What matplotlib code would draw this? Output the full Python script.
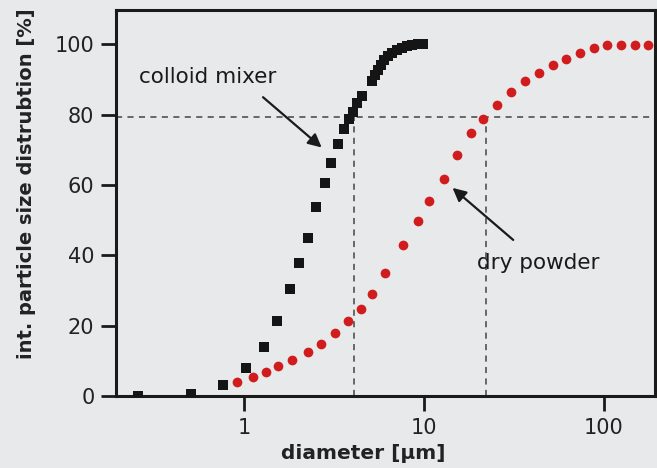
import matplotlib
matplotlib.use("Agg")
import matplotlib.pyplot as plt

# colloid mixer (black squares)
mixer_d = [0.258, 0.508, 0.764, 1.03, 1.29, 1.52, 1.80, 2.02, 2.27, 2.51, 2.82,
           3.04, 3.33, 3.59, 3.83, 4.03, 4.24, 4.52, 5.14, 5.34, 5.55, 5.77,
           5.99, 6.31, 6.64, 7.07, 7.53, 8.03, 8.56, 9.23, 9.87]
mixer_q = [0.0, 0.5, 3.1, 8.0, 13.9, 21.3, 30.4, 37.8, 44.9, 53.7, 60.6,
           66.2, 71.7, 75.9, 78.8, 80.8, 83.3, 85.3, 89.6, 91.3, 92.7, 94.1,
           95.5, 96.7, 97.5, 98.4, 98.9, 99.5, 99.8, 100.0, 100.0]

# dry powder (red circles)
powder_d = [0.914, 1.12, 1.32, 1.55, 1.85, 2.27, 2.68, 3.20, 3.78, 4.47, 5.14,
            6.07, 7.64, 9.26, 10.7, 12.9, 15.3, 18.2, 21.3, 25.4, 30.4, 36.4,
            43.5, 52.1, 61.5, 73.6, 88.0, 104, 124, 149, 176]
powder_q = [4.0, 5.4, 6.8, 8.5, 10.3, 12.5, 14.8, 17.9, 21.4, 24.8, 29.0,
            35.0, 43.0, 49.9, 55.5, 61.8, 68.7, 74.9, 78.9, 82.9, 86.6, 89.7,
            92.0, 94.3, 96.0, 97.7, 99.1, 99.8, 99.8, 99.8, 99.8]

# d80 guide lines
level_80 = 79.5
d80_mixer = 4.08
d80_powder = 22.0

xticks = [1, 10, 100]
xticklabels = ["1", "10", "100"]
yticks = [0, 20, 40, 60, 80, 100]

bg = "#e8e9eb"
ink = "#1a1a1a"
red = "#d01c1c"

plt.rcParams["font.family"] = ["DejaVu Sans"]

fig = plt.figure(figsize=(6.57, 4.68), dpi=100, facecolor=bg)
ax = fig.add_axes([0.1766, 0.1538, 0.8204, 0.8248], facecolor=bg)

ax.set_xscale("log")
ax.set_xlim(0.1945, 192)
ax.set_ylim(0, 109.8)

ax.axhline(level_80, color="#444444", lw=1.1, ls=(0, (4, 3.5)), zorder=1)
ax.vlines([d80_mixer, d80_powder], 0, level_80, color="#444444", lw=1.1,
          ls=(0, (4, 3.5)), zorder=1)

ax.plot(mixer_d, mixer_q, "s", color="#151515", ms=6.8, mew=0, zorder=3)
ax.plot(powder_d, powder_q, "o", color=red, ms=7.0, mew=0, zorder=3)

arrow = dict(arrowstyle="-|>", color=ink, lw=1.6, mutation_scale=20,
             shrinkA=0, shrinkB=0)
ax.annotate("", xy=(2.70, 70.7), xytext=(1.275, 85.0), arrowprops=arrow)
ax.annotate("", xy=(14.4, 59.2), xytext=(31.3, 44.4), arrowprops=arrow)
ax.text(0.631, 90.7, "colloid mixer", fontsize=15.5, color=ink,
        ha="center", va="center")
ax.text(43.0, 37.8, "dry powder", fontsize=15.5, color=ink,
        ha="center", va="center")

ax.set_xticks(xticks)
ax.set_xticklabels(xticklabels)
ax.xaxis.set_minor_locator(matplotlib.ticker.NullLocator())
ax.set_yticks(yticks)
ax.tick_params(axis="both", direction="out", length=10.5, width=2,
               color=ink, labelsize=15, labelcolor="#222222", pad=5)

for s in ax.spines.values():
    s.set_linewidth(2.2)
    s.set_color(ink)

ax.set_xlabel("diameter [\u00b5m]", fontsize=14.5, fontweight="bold",
              color="#222222")
ax.set_ylabel("int. particle size distrubtion [%]", fontsize=14,
              fontweight="bold", color="#222222")
ax.xaxis.set_label_coords(0.458, -0.125)
ax.yaxis.set_label_coords(-0.149, 0.549)

fig.savefig("out.png", dpi=100, facecolor=bg)
